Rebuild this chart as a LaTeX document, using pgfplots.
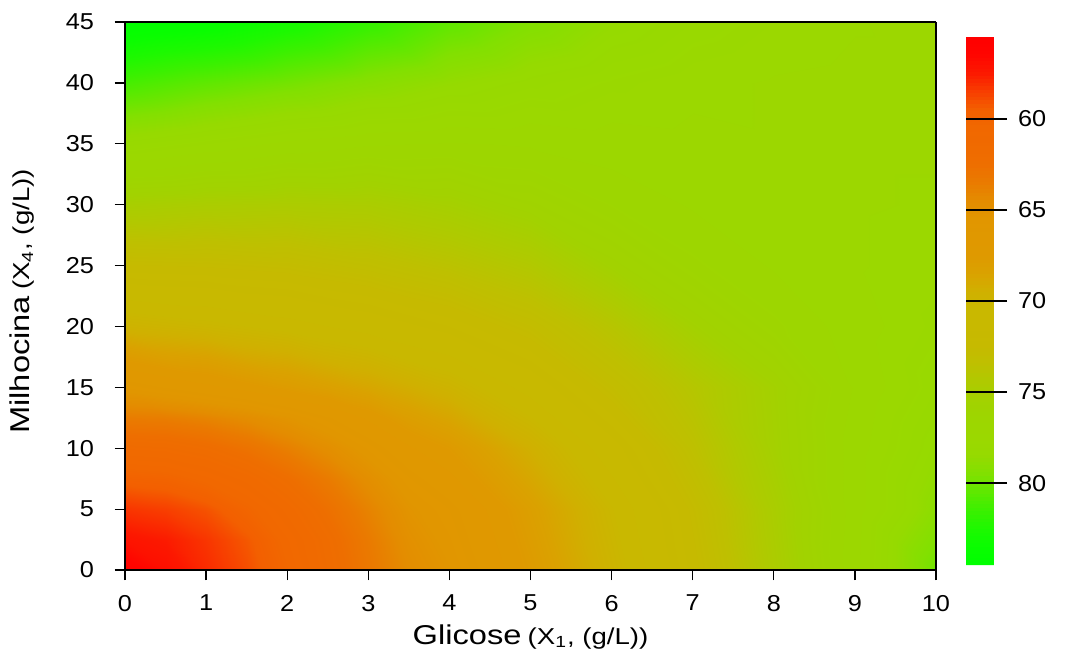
\documentclass[border=0pt]{standalone}
\usepackage{fontspec}
\setmainfont{Liberation Sans}[FakeStretch=1.1]
\newfontfamily\labfont{Liberation Sans}[FakeStretch=1.2]
\usepackage{pgfplots}
\pgfplotsset{compat=1.18}
\begin{document}
\begin{tikzpicture}
\begin{axis}[
  name=main,
  view={0}{90},
  scale only axis, width=405.5pt, height=274pt,
  xmin=0, xmax=10, ymin=0, ymax=45,
  xtick={0,1,...,10}, ytick={0,5,...,45},
  tick align=outside, major tick length=5pt,
  xtick pos=left, ytick pos=left,
  axis line style={line width=1.2pt},
  tick style={black, line width=0.6pt},
  /pgf/number format/assume math mode=true,
  tick label style={font=\fontsize{11.5}{13}\selectfont},
  xticklabel style={yshift=-4pt},
  yticklabel style={xshift=-7pt},
  xlabel={{\labfont\fontsize{13.6}{15}\selectfont Glicose} {\labfont\fontsize{11.5}{13}\selectfont (X\textsubscript{1}, (g/L))}},
  ylabel={{\labfont\fontsize{13.6}{15}\selectfont Milhocina} {\labfont\fontsize{11.5}{13}\selectfont (X\textsubscript{4}, (g/L))}},
  xlabel style={at={(axis description cs:0.5,-0.122)}, anchor=center},
  ylabel style={at={(axis description cs:-0.127,0.49)}, anchor=center},
  point meta min=55.5, point meta max=84.5,
  colormap={rg}{rgb255=(255,0,0) rgb255=(255,5,0) rgb255=(252,25,0) rgb255=(248,60,0) rgb255=(243,95,0) rgb255=(241,104,0) rgb255=(240,106,0) rgb255=(238,110,0) rgb255=(234,122,0) rgb255=(228,140,0) rgb255=(225,150,0) rgb255=(224,152,0) rgb255=(223,153,0) rgb255=(218,162,0) rgb255=(208,176,0) rgb255=(201,184,0) rgb255=(200,185,0) rgb255=(198,186,0) rgb255=(190,192,0) rgb255=(175,202,0) rgb255=(162,210,0) rgb255=(157,214,0) rgb255=(155,216,0) rgb255=(150,218,0) rgb255=(130,224,0) rgb255=(95,232,0) rgb255=(60,240,0) rgb255=(30,248,0) rgb255=(10,253,0) rgb255=(0,255,0)},
  colorbar sampled,
  colorbar style={
    samples=150,
    scale only axis, width=14pt, height=264pt,
    at={(parent axis.east)}, anchor=west, xshift=6.5pt, yshift=-2.5pt,
    y dir=reverse,
    axis on top,
    axis line style={draw=none},
    ytick={60,65,70,75,80},
    ytick pos=right, yticklabel pos=right,
    tick align=outside, major tick length=6.5pt,
    tick style={black, line width=0.9pt},
    extra y ticks={60,65,70,75,80},
    extra y tick labels={},
    extra y tick style={tick align=inside, major tick length=14pt},
    /pgf/number format/assume math mode=true,
    yticklabel style={font=\fontsize{11.5}{13}\selectfont, xshift=2pt},
  },
]
% whole field, 1 x 5 grid
\addplot3[surf, shader=interp, mesh/cols=11] table {
x y z
0 0 56.0
1 0 57.9
2 0 60.3
3 0 63.0
4 0 65.4
5 0 67.7
6 0 70.0
7 0 72.4
8 0 74.7
9 0 77.1
10 0 80.0
0 5 58.2
1 5 59.1
2 5 61.4
3 5 63.7
4 5 66.0
5 5 68.2
6 5 70.4
7 5 72.7
8 5 74.9
9 5 77.0
10 5 79.0
0 10 61.6
1 10 62.8
2 10 64.0
3 10 65.6
4 10 67.6
5 10 69.5
6 10 71.5
7 10 73.5
8 10 75.3
9 10 77.0
10 10 78.5
0 15 65.8
1 15 66.8
2 15 67.8
3 15 68.8
4 15 69.9
5 15 71.3
6 15 72.9
7 15 74.1
8 15 75.4
9 15 76.8
10 15 78.0
0 20 69.8
1 20 70.2
2 20 70.7
3 20 71.3
4 20 72.0
5 20 72.9
6 20 74.0
7 20 75.4
8 20 76.3
9 20 77.0
10 20 77.7
0 25 72.5
1 25 72.6
2 25 72.8
3 25 73.2
4 25 73.7
5 25 74.3
6 25 75.5
7 25 76.3
8 25 76.8
9 25 77.2
10 25 77.5
0 30 75.0
1 30 74.8
2 30 74.7
3 30 74.8
4 30 75.2
5 30 75.8
6 30 76.4
7 30 76.8
8 30 77.0
9 30 77.2
10 30 77.3
0 35 78.1
1 35 77.6
2 35 77.1
3 35 76.8
4 35 76.7
5 35 76.8
6 35 77.0
7 35 77.1
8 35 77.2
9 35 77.2
10 35 77.2
0 40 81.2
1 40 80.5
2 40 79.9
3 40 79.2
4 40 78.6
5 40 78.1
6 40 77.7
7 40 77.4
8 40 77.2
9 40 77.1
10 40 77.1
0 45 84.5
1 45 84.0
2 45 83.0
3 45 81.8
4 45 80.5
5 45 79.5
6 45 78.6
7 45 78.0
8 45 77.6
9 45 77.3
10 45 77.0
};
% finer readings in the lower left corner
\addplot3[surf, shader=interp, mesh/cols=9] table {
x y z
0 0 56.0
0.5 0 57.0
1 0 58.0
1.5 0 59.0
2 0 60.4
2.5 0 61.9
3 0 63.3
3.5 0 64.6
4 0 65.4
0 2.5 57.2
0.5 2.5 57.55
1 2.5 58.3
1.5 2.5 59.3
2 2.5 60.7
2.5 2.5 62.1
3 2.5 63.5
3.5 2.5 64.9
4 2.5 65.7
0 5 58.3
0.5 5 58.6
1 5 59.15
1.5 5 60.2
2 5 61.4
2.5 5 62.7
3 5 64.0
3.5 5 65.3
4 5 66.0
0 7.5 59.8
0.5 7.5 60.0
1 7.5 60.6
1.5 7.5 61.4
2 7.5 62.4
2.5 7.5 63.55
3 7.5 64.75
3.5 7.5 65.95
4 7.5 66.8
0 10 61.65
0.5 10 61.8
1 10 62.2
1.5 10 62.9
2 10 63.8
2.5 10 64.75
3 10 65.8
3.5 10 66.9
4 10 67.6
0 12.5 63.6
0.5 12.5 63.7
1 12.5 64.05
1.5 12.5 64.6
2 12.5 65.3
2.5 12.5 66.15
3 12.5 67.1
3.5 12.5 68.1
4 12.5 68.75
0 15 65.8
0.5 15 66.3
1 15 66.8
1.5 15 67.3
2 15 67.8
2.5 15 68.3
3 15 68.8
3.5 15 69.35
4 15 69.9
};
\end{axis}
\pgfresetboundingbox
\path (main.south west) ++(-62.5pt,-42.5pt) rectangle ++(533.5pt,327.5pt);
\end{tikzpicture}
\end{document}
